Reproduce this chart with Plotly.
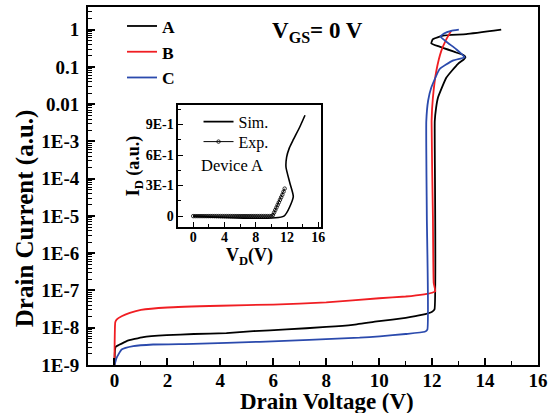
import plotly.graph_objects as go

# ---------------- data ----------------
A_voltage = [0.0, 0.02, 0.05, 0.15, 0.46, 1.09, 1.97, 3.0, 4.23, 5.24, 6.5, 8.0, 9.0, 10.0,
             11.0, 11.6, 12.0, 12.09, 12.1, 12.15, 12.22, 12.54, 12.97, 13.2, 13.26, 13.18,
             12.91, 12.28, 11.97, 12.03, 12.41, 13.29, 14.61]
A_current = [1e-9, 2.6e-9, 3.1e-9, 3.4e-9, 4.4e-9, 5.6e-9, 6.3e-9, 6.8e-9, 7.2e-9, 8.1e-9,
             9.0e-9, 1.05e-8, 1.2e-8, 1.5e-8, 1.85e-8, 2.2e-8, 2.7e-8, 3.1e-8, 3.5e-3, 8e-3,
             1.5e-2, 5.2e-2, 1.2e-1, 1.6e-1, 1.82e-1, 2.1e-1, 2.45e-1, 3.5e-1, 4.3e-1,
             5.6e-1, 6.9e-1, 7.6e-1, 1.0]

B_voltage = [0.0, 0.03, 0.08, 0.27, 0.58, 1.0, 2.0, 4.0, 6.0, 8.0, 10.0, 11.0, 11.7, 12.0,
             12.12, 12.06, 12.03, 11.98, 12.03, 12.16, 12.35, 12.54, 12.72]
B_current = [1e-9, 1.4e-8, 1.66e-8, 2.04e-8, 2.5e-8, 3.0e-8, 3.5e-8, 3.9e-8, 4.2e-8, 4.8e-8,
             6.2e-8, 6.9e-8, 7.9e-8, 8.7e-8, 9.5e-8, 1.6e-7, 1e-5, 3.5e-3, 1.5e-2, 7.9e-2,
             2.75e-1, 5.6e-1, 9.3e-1]

C_voltage = [0.0, 0.02, 0.08, 0.27, 0.71, 1.46, 2.97, 5.49, 9.26, 10.02, 11.0, 11.72, 11.82,
             11.8, 11.78, 11.85, 11.97, 12.28, 12.78, 13.1, 13.23, 13.15, 12.91, 12.55, 12.32,
             12.45, 12.72, 13.01]
C_current = [1e-9, 1.12e-9, 1.55e-9, 2.6e-9, 3.2e-9, 3.55e-9, 3.7e-9, 4.2e-9, 5.4e-9, 5.9e-9,
             6.8e-9, 7.8e-9, 8.9e-9, 1e-5, 3.5e-3, 1.26e-2, 2.8e-2, 8.7e-2, 1.48e-1, 1.7e-1,
             1.82e-1, 2.1e-1, 3.0e-1, 4.7e-1, 6.5e-1, 7.9e-1, 9.3e-1, 1.0]

# inset (Device A, linear scale)
sim_voltage = [0.0, 11.6, 12.8, 12.38, 11.87, 11.95, 12.3, 12.8, 13.66, 14.3]
sim_current = [0.0, 0.0, 0.19, 0.32, 0.48, 0.58, 0.67, 0.75, 0.88, 0.99]

exp_voltage = [0.0, 0.25, 0.5, 0.75, 1.0, 1.25, 1.5, 1.75, 2.0, 2.25, 2.5, 2.75, 3.0, 3.25,
               3.5, 3.75, 4.0, 4.25, 4.5, 4.75, 5.0, 5.25, 5.5, 5.75, 6.0, 6.25, 6.5, 6.75,
               7.0, 7.25, 7.5, 7.75, 8.0, 8.25, 8.5, 8.75, 9.0, 9.25, 9.5, 9.75, 10.0,
               10.2, 10.35, 10.5, 10.65, 10.8, 10.95, 11.1, 11.25, 11.4, 11.55, 11.7]
exp_current = [0.0, 0.0, 0.0, 0.0, 0.0, 0.0, 0.0, 0.0, 0.0, 0.0, 0.0, 0.0, 0.0, 0.0,
               0.0, 0.0, 0.0, 0.0, 0.0, 0.0, 0.0, 0.0, 0.0, 0.0, 0.0, 0.0, 0.0, 0.0,
               0.0, 0.0, 0.0, 0.0, 0.0, 0.0, 0.0, 0.0, 0.0, 0.0, 0.0, 0.0, 0.0,
               0.01, 0.035, 0.06, 0.085, 0.11, 0.135, 0.16, 0.185, 0.21, 0.24, 0.27]

main_x_ticks = [0, 2, 4, 6, 8, 10, 12, 14, 16]
main_y_ticks = [1e-9, 1e-8, 1e-7, 1e-6, 1e-5, 1e-4, 1e-3, 1e-2, 1e-1, 1]
main_y_labels = ["1E-9", "1E-8", "1E-7", "1E-6", "1E-5", "1E-4", "1E-3", "0.01", "0.1", "1"]
inset_x_ticks = [0, 4, 8, 12, 16]
inset_y_ticks = [0, 0.3, 0.6, 0.9]
inset_y_labels = ["0", "3E-1", "6E-1", "9E-1"]

# ---------------- figure ----------------
SERIF = "Liberation Serif"
BLACK = "#000000"
RED = "#f01e23"
BLUE = "#2b4aad"

fig = go.Figure()
for name, vx, iy, col in [("A", A_voltage, A_current, BLACK),
                          ("B", B_voltage, B_current, RED),
                          ("C", C_voltage, C_current, BLUE)]:
    fig.add_trace(go.Scatter(x=vx, y=iy, name=name, mode="lines",
                             line=dict(color=col, width=1.8, shape="spline", smoothing=0.4),
                             xaxis="x", yaxis="y", legend="legend"))

fig.add_trace(go.Scatter(x=sim_voltage, y=sim_current, name="Sim.", mode="lines",
                         line=dict(color=BLACK, width=1.6, shape="spline", smoothing=0.5),
                         xaxis="x2", yaxis="y2", legend="legend2"))
fig.add_trace(go.Scatter(x=exp_voltage, y=exp_current, name="Exp.", mode="lines+markers",
                         line=dict(color=BLACK, width=1),
                         marker=dict(symbol="circle-open", size=3.5, color=BLACK,
                                     line=dict(width=0.8, color=BLACK)),
                         xaxis="x2", yaxis="y2", legend="legend3"))

tick_font = dict(family=SERIF, size=19, color=BLACK, weight="bold")
inset_tick_font = dict(family=SERIF, size=14, color=BLACK, weight="bold")

fig.update_layout(
    width=554, height=413,
    margin=dict(l=88, r=16, t=7, b=48),
    plot_bgcolor="white", paper_bgcolor="white",
    font=dict(family=SERIF, color=BLACK),
    xaxis=dict(range=[-1, 16], tickvals=main_x_ticks, ticks="inside", ticklen=7,
               tickwidth=1.5, tickcolor=BLACK, showline=True, linewidth=1.8,
               linecolor=BLACK, mirror=True, showgrid=False, zeroline=False,
               tickfont=tick_font, automargin=False, ticklabelstandoff=-3,
               minor=dict(dtick=1, tick0=0, ticks="inside", ticklen=4, tickcolor=BLACK,
                          tickwidth=1.2, showgrid=False)),
    yaxis=dict(type="log", range=[-9, 0.61], tickvals=main_y_ticks, ticktext=main_y_labels,
               ticks="inside", ticklen=7, tickwidth=1.5, tickcolor=BLACK, showline=True,
               linewidth=1.8, linecolor=BLACK, mirror=True, showgrid=False,
               zeroline=False, tickfont=tick_font, ticklabelstandoff=3, automargin=False,
               minor=dict(dtick="D1", ticks="inside", ticklen=4, tickcolor=BLACK,
                          tickwidth=1, showgrid=False)),
    xaxis2=dict(domain=[0.2007, 0.517], anchor="y2", range=[-1.9, 16.3],
                tickvals=inset_x_ticks, ticks="inside", ticklen=5, tickwidth=1.3,
                tickcolor=BLACK, showline=True, linewidth=1.5, linecolor=BLACK,
                mirror=True, showgrid=False, zeroline=False, tickfont=inset_tick_font,
                automargin=False, ticklabelstandoff=-3,
                minor=dict(dtick=2, tick0=0, ticks="inside", ticklen=3, tickcolor=BLACK,
                           showgrid=False),
                title=dict(text="V<sub>D</sub>(V)", standoff=0,
                           font=dict(family=SERIF, size=18, color=BLACK, weight="bold"))),
    yaxis2=dict(domain=[0.386, 0.726], anchor="x2", range=[-0.105, 1.09],
                tickvals=inset_y_ticks, ticktext=inset_y_labels, ticks="inside",
                ticklen=5, tickwidth=1.3, tickcolor=BLACK, showline=True, linewidth=1.5,
                linecolor=BLACK, mirror=True, showgrid=False, zeroline=False,
                tickfont=inset_tick_font, automargin=False,
                minor=dict(dtick=0.15, tick0=0, ticks="inside", ticklen=3,
                           tickcolor=BLACK, showgrid=False),
                title=dict(text="I<sub>D</sub> (a.u.)", standoff=0,
                           font=dict(family=SERIF, size=18, color=BLACK, weight="bold"))),
    legend=dict(x=0.0756, y=0.874, xanchor="left", yanchor="middle",
                bgcolor="rgba(0,0,0,0)", borderwidth=0, tracegroupgap=0,
                font=dict(family=SERIF, size=17.5, color=BLACK, weight="bold")),
    legend2=dict(x=0.2456, y=0.6796, xanchor="left", yanchor="middle",
                 bgcolor="rgba(0,0,0,0)", borderwidth=0,
                 font=dict(family=SERIF, size=16, color=BLACK)),
    legend3=dict(x=0.2456, y=0.6237, xanchor="left", yanchor="middle",
                 bgcolor="rgba(0,0,0,0)", borderwidth=0,
                 font=dict(family=SERIF, size=16, color=BLACK)),
    annotations=[
        dict(text="V<sub>GS</sub>= 0 V", x=0.511, y=0.931, xref="paper", yref="paper",
             yanchor="middle", showarrow=False,
             font=dict(family=SERIF, size=23, color=BLACK, weight="bold")),
        dict(text="Device A", x=0.2467, y=0.556, xref="paper", yref="paper",
             xanchor="left", showarrow=False,
             font=dict(family=SERIF, size=16.5, color=BLACK)),
        dict(text="Drain Current (a.u.)", x=-0.14, y=0.41, xref="paper", yref="paper",
             xanchor="center", yanchor="middle", textangle=-90, showarrow=False,
             font=dict(family=SERIF, size=25, color=BLACK, weight="bold")),
        dict(text="Drain Voltage (V)", x=0.531, y=-0.103, xref="paper", yref="paper",
             xanchor="center", yanchor="middle", showarrow=False,
             font=dict(family=SERIF, size=23, color=BLACK, weight="bold")),
    ],
)

fig.write_html("out.html")
